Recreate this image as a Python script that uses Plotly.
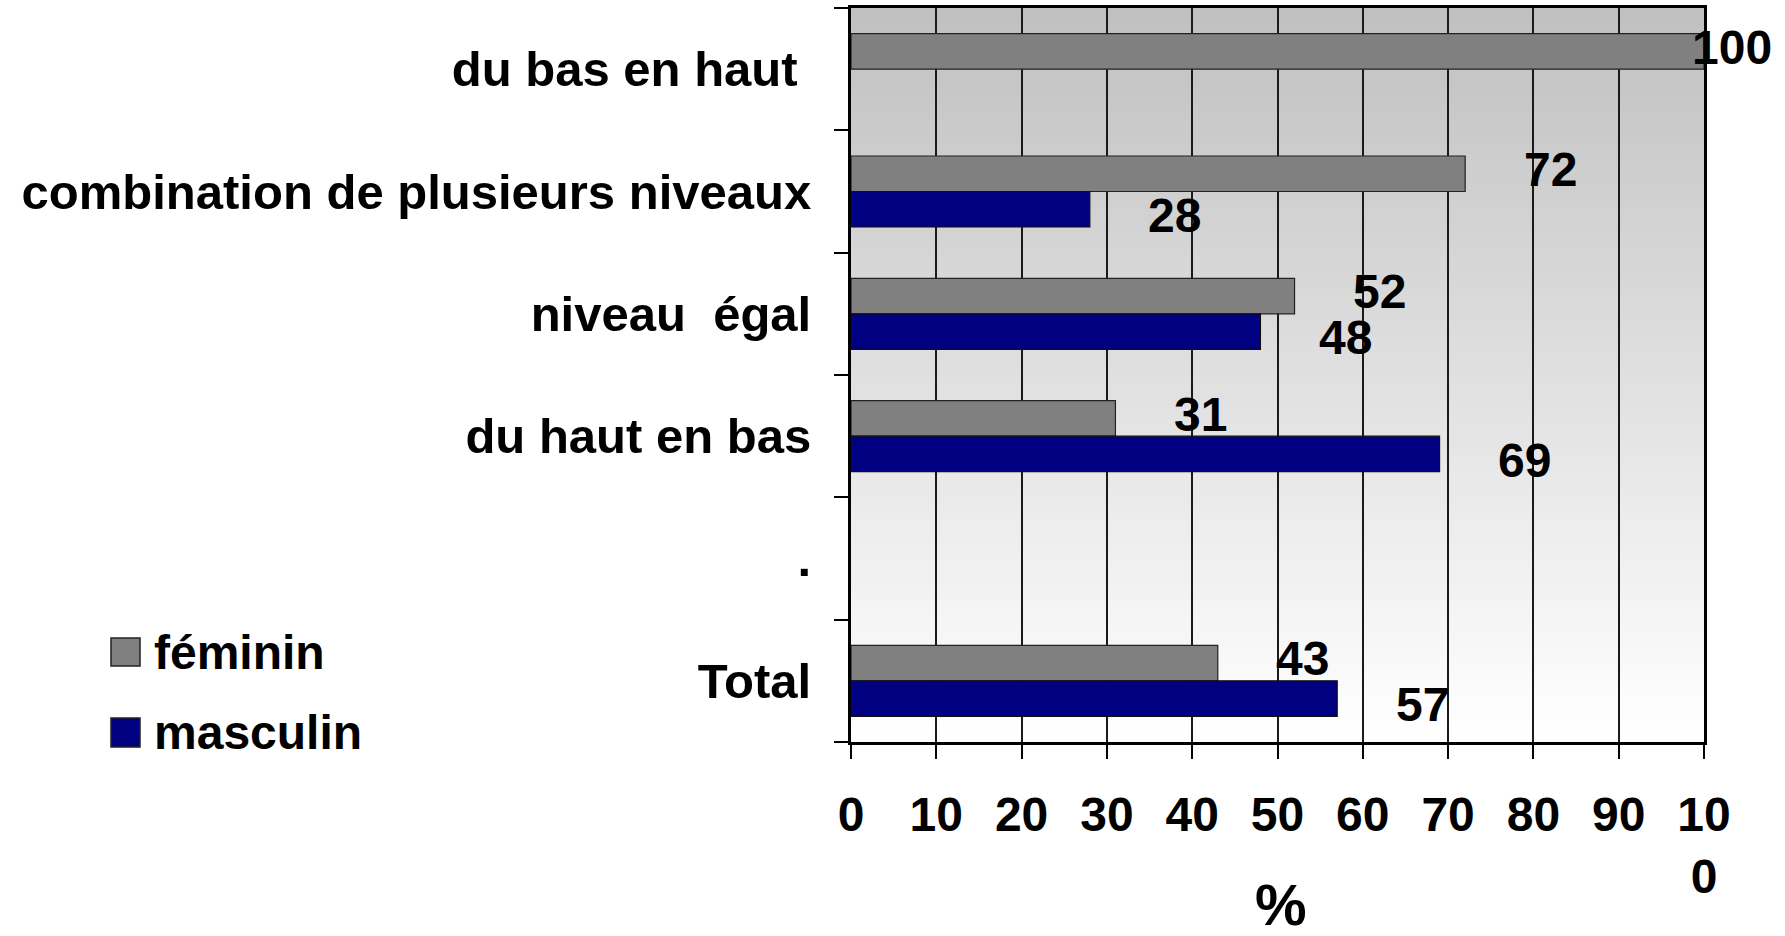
import plotly.graph_objects as go

# ---- data ----
categories = ["du bas en haut\u00a0", "combination de plusieurs niveaux",
              "niveau\u00a0 égal", "du haut en bas", ".", "Total"]
feminin = [100, 72, 52, 31, None, 43]
masculin = [None, 28, 48, 69, None, 57]
series_names = ["féminin", "masculin"]
x_tickvals = [0, 10, 20, 30, 40, 50, 60, 70, 80, 90, 100]
x_ticktext = ["0", "10", "20", "30", "40", "50", "60", "70", "80", "90", "10<br>0"]
x_title = "%"

# ---- style ----
FONT = "Liberation Sans, Arial, sans-serif"
FS = 48
C_FEM = "#808080"
C_MAS = "#000080"
W, H = 1785, 936
L, R, T, B = 851, 81, 8, 194
PW, PH = W - L - R, H - T - B


def px_x(p):
    return (p - L) / PW


def px_y(p):
    return (H - B - p) / PH


fig = go.Figure()
fig.add_trace(go.Bar(y=categories, x=feminin, orientation="h", name=series_names[0],
                     marker=dict(color=C_FEM, line=dict(color="#222222", width=1.2)),
                     showlegend=False))
fig.add_trace(go.Bar(y=categories, x=masculin, orientation="h", name=series_names[1],
                     marker=dict(color=C_MAS, line=dict(color="#111111", width=1.2)),
                     showlegend=False))

# gradient plot background
shapes = []
N = 80
for i in range(N):
    f = i / (N - 1)
    v = int(round(192 + (255 - 192) * f))
    shapes.append(dict(type="rect", xref="x domain", yref="y domain",
                       x0=0, x1=1, y0=1 - (i + 1) / N, y1=1 - i / N + 0.002,
                       fillcolor=f"rgb({v},{v},{v})", line=dict(width=0), layer="below"))

# custom legend boxes
legend_boxes = [(638, 666, C_FEM), (718, 747, C_MAS)]
for (y0, y1, c) in legend_boxes:
    shapes.append(dict(type="rect", xref="paper", yref="paper",
                       x0=px_x(111), x1=px_x(140), y0=px_y(y1), y1=px_y(y0),
                       fillcolor=c, line=dict(color="#222222", width=1.5)))

annotations = []
for name, yc in zip(series_names, [652, 732]):
    annotations.append(dict(text=f"<b>{name}</b>", xref="paper", yref="paper",
                            x=px_x(152), y=px_y(yc), xanchor="left", yanchor="middle",
                            showarrow=False, font=dict(family=FONT, size=FS, color="black")))

# axis title "%"
annotations.append(dict(text=f"<b>{x_title}</b>", xref="paper", yref="paper",
                        x=px_x(1281), y=px_y(904), xanchor="center", yanchor="middle",
                        showarrow=False, font=dict(family=FONT, size=58, color="black")))

# value labels
for vals, ysh in [(feminin, 22), (masculin, -24)]:
    for cat, v in zip(categories, vals):
        if v is None:
            continue
        annotations.append(dict(text=f"<b>{v}</b>", x=v, y=cat, xref="x", yref="y",
                                xanchor="center", yanchor="middle", showarrow=False,
                                xshift=85 if v < 100 else 28, yshift=ysh,
                                font=dict(family=FONT, size=FS, color="black")))

fig.update_layout(
    width=W, height=H,
    margin=dict(l=L, r=R, t=T, b=B, autoexpand=False),
    paper_bgcolor="white", plot_bgcolor="white",
    barmode="group", bargap=0.42, bargroupgap=0,
    font=dict(family=FONT, size=FS, color="black"),
    shapes=shapes, annotations=annotations,
    showlegend=False,
)
fig.update_xaxes(range=[0, 100], tickvals=x_tickvals,
                 ticktext=[f"<b>{t}</b>".replace("<br>", "</b><br><b>") for t in x_ticktext],
                 ticks="outside", ticklen=14, tickwidth=2, tickcolor="black",
                 showgrid=True, gridcolor="#1a1a1a", gridwidth=2,
                 showline=True, linecolor="black", linewidth=3, mirror=True,
                 zeroline=False, ticklabelstandoff=14, automargin=False,
                 tickfont=dict(family=FONT, size=FS, color="black"))
fig.update_yaxes(categoryorder="array", categoryarray=categories, autorange="reversed",
                 tickvals=categories, ticktext=[f"<b>{c}</b>" for c in categories],
                 ticks="outside", tickson="boundaries", ticklen=14, tickwidth=2, tickcolor="black",
                 showgrid=False, showline=True, linecolor="black", linewidth=3, mirror=True,
                 ticklabelstandoff=27, automargin=False,
                 tickfont=dict(family=FONT, size=FS + 1, color="black"))

fig.write_html("out.html", config={"displayModeBar": False},
               post_script="document.body.style.margin='0';document.body.style.overflow='hidden';")
